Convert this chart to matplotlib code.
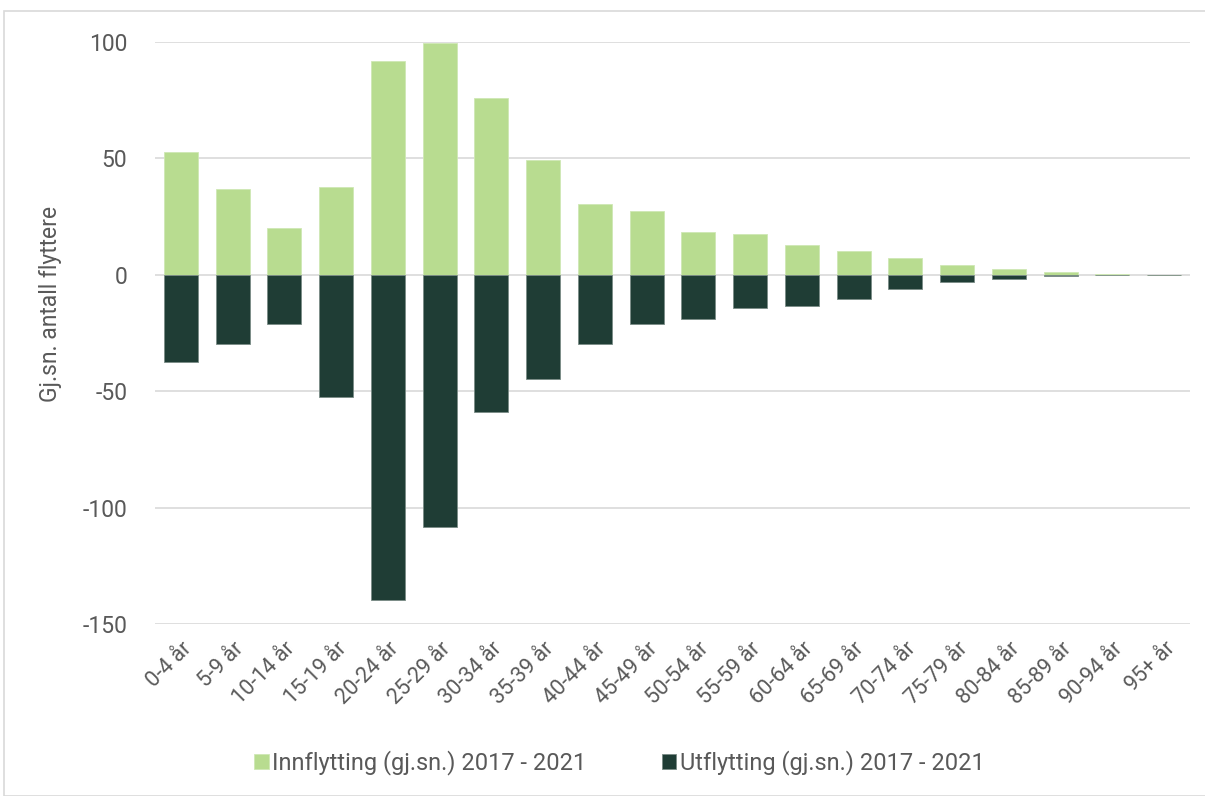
import matplotlib
matplotlib.use('Agg')
import matplotlib.pyplot as plt
from matplotlib.patches import Rectangle
import numpy as np

categories = ["0-4 år", "5-9 år", "10-14 år", "15-19 år", "20-24 år", "25-29 år",
              "30-34 år", "35-39 år", "40-44 år", "45-49 år", "50-54 år", "55-59 år",
              "60-64 år", "65-69 år", "70-74 år", "75-79 år", "80-84 år", "85-89 år",
              "90-94 år", "95+ år"]
innflytting = [52.6, 37.0, 20.3, 37.5, 91.8, 99.6, 75.9, 49.1, 30.2, 27.6,
               18.5, 17.7, 12.9, 10.3, 7.3, 4.3, 2.6, 1.0, 0.3, 0.0]
utflytting = [-37.5, -29.7, -21.1, -52.6, -139.7, -108.2, -59.0, -44.8, -29.7, -21.1,
              -19.0, -14.2, -13.4, -10.3, -6.0, -3.0, -1.7, -0.6, -0.2, 0.0]
yticks = [-150, -100, -50, 0, 50, 100]

plt.rcParams['font.family'] = ['Roboto', 'DejaVu Sans']
text_color = '#595959'
light = '#B8DC90'
dark = '#1F3D35'

fig = plt.figure(figsize=(12.05, 7.96), dpi=100)
fig.patch.set_facecolor('white')
# thin grey frame round the whole chart, open at the right and bottom edge
fig.patches.append(Rectangle((4 / 1205, 0), 1.2, 1 - 11 / 796, transform=fig.transFigure,
                             fill=False, edgecolor='#D9D9D9', linewidth=1.2))

ax = fig.add_axes([155 / 1205, 1 - 624 / 796, (1190 - 155) / 1205, (624 - 42) / 796])
x = np.arange(len(categories))
ax.bar(x, innflytting, 0.66, color=light, edgecolor='#CFE8B4', linewidth=0.6,
       label="Innflytting (gj.sn.) 2017 - 2021", zorder=3)
ax.bar(x, utflytting, 0.66, color=dark, edgecolor='#7A8C86', linewidth=0.6,
       label="Utflytting (gj.sn.) 2017 - 2021", zorder=3)

ax.set_xlim(-0.5, len(categories) - 0.5)
ax.set_ylim(-150, 100)
ax.set_yticks(yticks)
ax.set_yticklabels([str(v) for v in yticks])
ax.yaxis.grid(True, color='#D9D9D9', linewidth=1.2, zorder=0)
ax.set_axisbelow(True)
for s in ax.spines.values():
    s.set_visible(False)
ax.tick_params(axis='both', length=0, colors=text_color)
ax.tick_params(axis='y', labelsize=16.5, pad=20)
ax.set_xticks(x)
ax.set_xticklabels(categories, rotation=45, ha='right', rotation_mode='anchor',
                   fontsize=15.5, color=text_color)
ax.tick_params(axis='x', pad=10)
ax.set_ylabel("Gj.sn. antall flyttere", fontsize=16.5, color=text_color)
ax.yaxis.set_label_coords(-0.09, 0.55)

leg = fig.legend(loc='center', bbox_to_anchor=(0.514, 1 - 763 / 796), ncol=2, frameon=False,
                 fontsize=17, handlelength=0.6, handleheight=0.6, handletextpad=0.15,
                 columnspacing=3.2)
for t in leg.get_texts():
    t.set_color(text_color)

fig.savefig('out.png', dpi=100, facecolor='white')
